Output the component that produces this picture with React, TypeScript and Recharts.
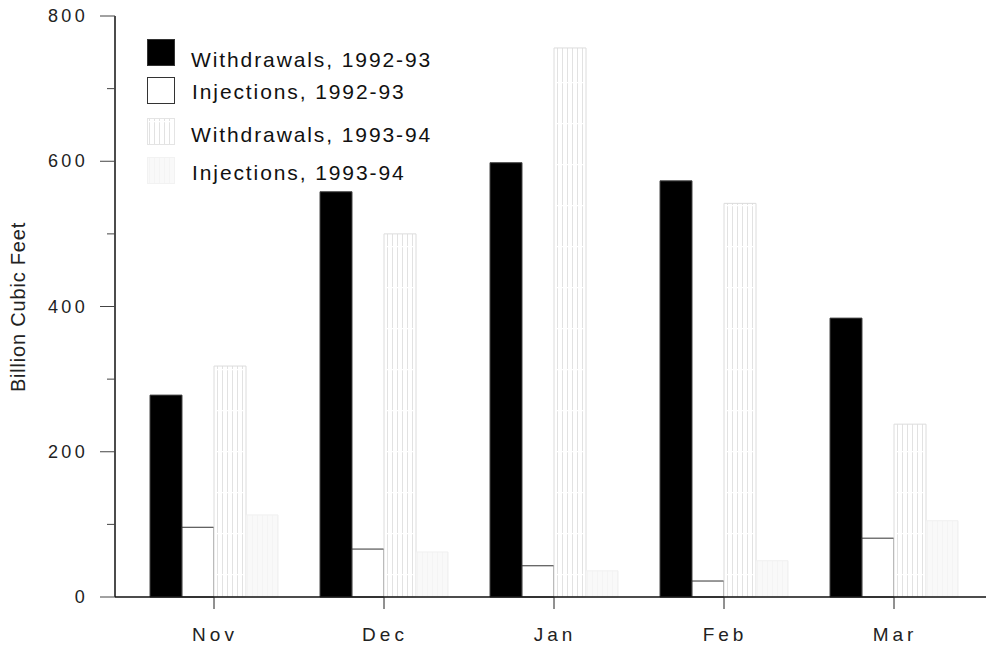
import { BarChart, Bar, XAxis, YAxis, Legend } from "recharts"

const months = ["Nov", "Dec", "Jan", "Feb", "Mar"]
const withdrawals9293 = [278, 558, 598, 573, 384]
const injections9293 = [96, 66, 43, 22, 81]
const withdrawals9394 = [318, 500, 756, 542, 238]
const injections9394 = [113, 62, 36, 50, 105]
const yTicks = [0, 100, 200, 300, 400, 500, 600, 700, 800]
const seriesNames = ["Withdrawals, 1992-93", "Injections, 1992-93", "Withdrawals, 1993-94", "Injections, 1993-94"]

const data = months.map((m, i) => ({
	month: m,
	w92: withdrawals9293[i],
	i92: injections9293[i],
	w93: withdrawals9394[i],
	i93: injections9394[i],
}))

const FONT = "'Liberation Sans', Arial, sans-serif"

function Patterns({ prefix }: { prefix: string }) {
	return (
		<defs>
			<pattern id={prefix + "w93"} patternUnits="userSpaceOnUse" width={5} height={41}>
				<rect width={5} height={41} fill="#fff" />
				<line x1={2.5} x2={2.5} y1={0} y2={41} stroke="#e2e2e2" strokeWidth={1} />
				<line x1={0} x2={5} y1={0.5} y2={0.5} stroke="#fff" strokeWidth={1.5} />
			</pattern>
			<pattern id={prefix + "i93"} patternUnits="userSpaceOnUse" width={5} height={41}>
				<rect width={5} height={41} fill="#f9f9f9" />
				<line x1={2.5} x2={2.5} y1={0} y2={41} stroke="#f4f4f4" strokeWidth={1} />
			</pattern>
		</defs>
	)
}

function YTick(props: any) {
	const { x, y, payload } = props
	const major = payload.value % 200 === 0
	return (
		<g>
			<line x1={x - (major ? 15 : 8)} x2={x} y1={y} y2={y} stroke="#444" />
			{major && (
				<text x={x - 27} y={y} dy={6} textAnchor="end" fontSize={18} letterSpacing={3.3} fill="#222" fontFamily={FONT}>
					{payload.value}
				</text>
			)}
		</g>
	)
}

function XTick(props: any) {
	const { x, y, payload } = props
	return (
		<g>
			<line x1={x} x2={x} y1={y} y2={y + 12} stroke="#222" />
			<text x={x + 1} y={y + 44} textAnchor="middle" fontSize={19} letterSpacing={4} fill="#222" fontFamily={FONT}>
				{payload.value}
			</text>
		</g>
	)
}

function YLabel() {
	return (
		<text
			x={18}
			y={307}
			transform="rotate(-90, 18, 307)"
			textAnchor="middle"
			dominantBaseline="central"
			fontSize={20}
			letterSpacing={0.8}
			fill="#222"
			fontFamily={FONT}
		>
			Billion Cubic Feet
		</text>
	)
}

function LegendBox() {
	const rows = [
		{ y: 0, fill: "#000", stroke: "#333", ty: 28, tx: 44 },
		{ y: 38, fill: "#fff", stroke: "#333", ty: 60, tx: 45 },
		{ y: 79, fill: "url(#lgw93)", stroke: "#e4e4e4", ty: 103, tx: 44 },
		{ y: 118, fill: "url(#lgi93)", stroke: "#f2f2f2", ty: 141, tx: 45 },
	]
	return (
		<svg width={310} height={150}>
			<Patterns prefix="lg" />
			{rows.map((r, i) => (
				<g key={i}>
					<rect x={0.5} y={r.y + 0.5} width={27} height={26} fill={r.fill} stroke={r.stroke} />
					<text x={r.tx} y={r.ty} fontSize={21} letterSpacing={1.9} fill="#111" fontFamily={FONT}>
						{seriesNames[i]}
					</text>
				</g>
			))}
		</svg>
	)
}

export default function App() {
	return (
		<div style={{ position: "absolute", left: 0, top: 0, background: "#fff" }}>
			<BarChart
				width={986}
				height={646}
				data={data}
				margin={{ top: 16, right: 0, bottom: 0, left: 0 }}
				barGap={0}
				barSize={32}
			>
				<Patterns prefix="" />
				<XAxis
					dataKey="month"
					height={49}
					padding={{ left: 14, right: 7 }}
					tickLine={false}
					tickSize={0}
					tickMargin={0}
					axisLine={{ stroke: "#111", strokeWidth: 1.5 }}
					tick={<XTick />}
				/>
				<YAxis
					width={115}
					domain={[0, 800]}
					ticks={yTicks}
					interval={0}
					tickLine={false}
					tickSize={0}
					tickMargin={0}
					axisLine={{ stroke: "#111", strokeWidth: 1.5 }}
					tick={<YTick />}
					label={<YLabel />}
				/>
				<Legend
					layout="horizontal"
					verticalAlign="middle"
					align="center"
					wrapperStyle={{ top: 39, left: 147, width: "auto", height: "auto" }}
					content={() => <LegendBox />}
				/>
				<Bar dataKey="w92" name={seriesNames[0]} fill="#000" stroke="#444" isAnimationActive={false} />
				<Bar dataKey="i92" name={seriesNames[1]} fill="#fff" stroke="#333" isAnimationActive={false} />
				<Bar dataKey="w93" name={seriesNames[2]} fill="url(#w93)" stroke="#dcdcdc" isAnimationActive={false} />
				<Bar dataKey="i93" name={seriesNames[3]} fill="url(#i93)" stroke="#f0f0f0" isAnimationActive={false} />
			</BarChart>
		</div>
	)
}
